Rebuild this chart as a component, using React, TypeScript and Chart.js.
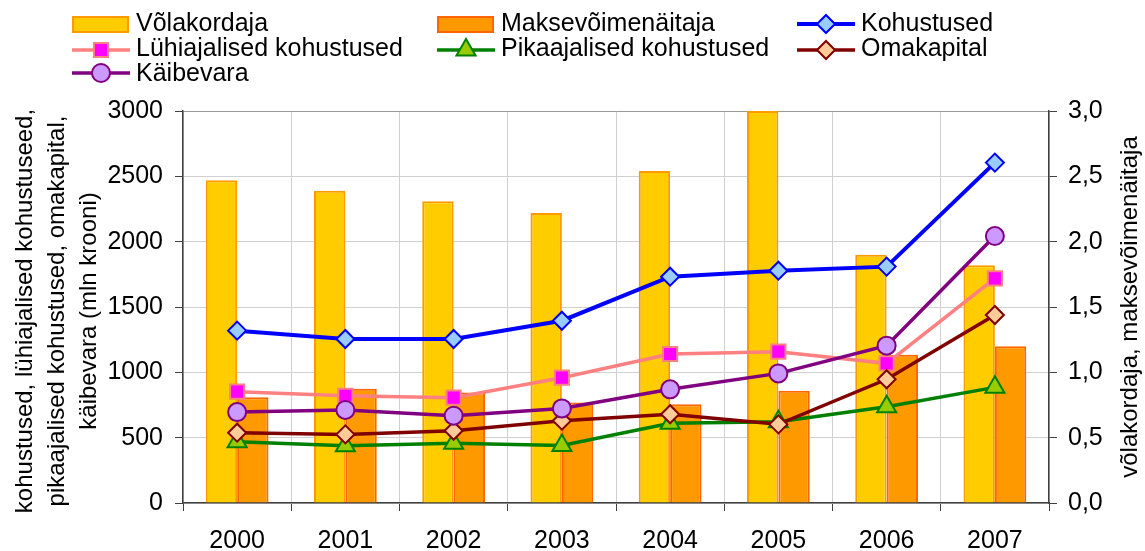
import React, { useEffect, useRef } from 'react';
import { Chart, registerables } from 'chart.js';

Chart.register(...registerables);

const FONT = '"Liberation Sans", Arial, Helvetica, sans-serif';

// ---- data ----
const years = ['2000', '2001', '2002', '2003', '2004', '2005', '2006', '2007'];
const volakordaja = [2.47, 2.39, 2.31, 2.22, 2.54, 3.0, 1.9, 1.82];
const maksevoimenaitaja = [0.81, 0.875, 0.845, 0.77, 0.755, 0.86, 1.135, 1.2];
const kohustused = [1319, 1255, 1255, 1395, 1732, 1778, 1809, 2605];
const luhiajalised = [852, 821, 806, 959, 1140, 1158, 1069, 1719];
const pikaajalised = [469, 439, 457, 441, 610, 622, 737, 885];
const omakapital = [538, 525, 553, 630, 679, 602, 947, 1439];
const kaibevara = [696, 712, 668, 724, 870, 992, 1204, 2043];

const leftAxis = { min: 0, max: 3000, step: 500 };
const rightAxis = { min: 0, max: 3, step: 0.5 };

const leftTitle = [
  'kohustused, lühiajalised kohustuseed,',
  'pikaajalised kohustused, omakapital,',
  'käibevara (mln krooni)',
];
const rightTitle = 'võlakordaja, maksevõimenäitaja';

// ---- helpers ----
function drawMarker(ctx: CanvasRenderingContext2D, style: string, x: number, y: number, r: number) {
  ctx.beginPath();
  if (style === 'rectRot') {
    ctx.moveTo(x - r, y);
    ctx.lineTo(x, y - r);
    ctx.lineTo(x + r, y);
    ctx.lineTo(x, y + r);
    ctx.closePath();
  } else if (style === 'rect') {
    const s = r * Math.SQRT1_2;
    ctx.rect(x - s, y - s, 2 * s, 2 * s);
  } else if (style === 'triangle') {
    let rad = 0;
    ctx.moveTo(x + Math.sin(rad) * r, y - Math.cos(rad) * r);
    rad += (2 * Math.PI) / 3;
    ctx.lineTo(x + Math.sin(rad) * r, y - Math.cos(rad) * r);
    rad += (2 * Math.PI) / 3;
    ctx.lineTo(x + Math.sin(rad) * r, y - Math.cos(rad) * r);
    ctx.closePath();
  } else {
    ctx.arc(x, y, r, 0, Math.PI * 2);
  }
  ctx.fill();
  ctx.stroke();
}

const legendPlugin = {
  id: 'gridLegend',
  afterDraw(chart: any) {
    const ctx: CanvasRenderingContext2D = chart.ctx;
    const cols = [72, 437, 797];
    const markerRows = [24, 50, 73];
    const textRows = [30.5, 56, 80.5];
    chart.data.datasets.forEach((ds: any, i: number) => {
      const x = cols[i % 3];
      const row = Math.floor(i / 3);
      const y = markerRows[row];
      ctx.save();
      if (ds.type === 'bar') {
        ctx.fillStyle = ds.backgroundColor;
        ctx.strokeStyle = ds.borderColor;
        ctx.lineWidth = 2;
        ctx.fillRect(x + 1, y - 7, 55, 15);
        ctx.strokeRect(x + 1, y - 7, 55, 15);
      } else {
        ctx.strokeStyle = ds.borderColor;
        ctx.lineWidth = ds.borderWidth;
        ctx.beginPath();
        ctx.moveTo(x, y);
        ctx.lineTo(x + 58, y);
        ctx.stroke();
        ctx.fillStyle = ds.pointBackgroundColor;
        ctx.strokeStyle = ds.pointBorderColor;
        ctx.lineWidth = ds.pointBorderWidth;
        drawMarker(ctx, ds.pointStyle, x + 29, y, ds.pointRadius);
      }
      ctx.fillStyle = '#000';
      ctx.font = `25px ${FONT}`;
      ctx.textAlign = 'left';
      ctx.textBaseline = 'alphabetic';
      ctx.fillText(ds.label, x + 64, textRows[row]);
      ctx.restore();
    });
  },
};

const titlePlugin = {
  id: 'axisTitles',
  afterDraw(chart: any) {
    const ctx: CanvasRenderingContext2D = chart.ctx;
    const area = chart.chartArea;
    const cy = (area.top + area.bottom) / 2 + 4;
    ctx.save();
    ctx.fillStyle = '#000';
    ctx.font = `24px ${FONT}`;
    ctx.textAlign = 'center';
    ctx.textBaseline = 'alphabetic';
    const baselines = [32, 64, 96];
    leftTitle.forEach((line, i) => {
      ctx.save();
      ctx.translate(baselines[i], cy);
      ctx.rotate(-Math.PI / 2);
      ctx.fillText(line, 0, 0);
      ctx.restore();
    });
    ctx.save();
    ctx.translate(1137, cy - 4);
    ctx.rotate(-Math.PI / 2);
    ctx.fillText(rightTitle, 0, 0);
    ctx.restore();
    ctx.restore();
  },
};

export default function App() {
  const ref = useRef<HTMLCanvasElement>(null);

  useEffect(() => {
    const tickFont = { family: FONT, size: 25 };
    const dark = '#404040';
    const chart = new Chart(ref.current as HTMLCanvasElement, {
      type: 'bar',
      data: {
        labels: years,
        datasets: [
          {
            type: 'bar',
            label: 'Võlakordaja',
            data: volakordaja,
            yAxisID: 'y1',
            backgroundColor: '#FFCC00',
            borderColor: '#FF9900',
            borderWidth: 2,
            order: 20,
          } as any,
          {
            type: 'bar',
            label: 'Maksevõimenäitaja',
            data: maksevoimenaitaja,
            yAxisID: 'y1',
            backgroundColor: '#FF9900',
            borderColor: '#FF6600',
            borderWidth: 2,
            order: 21,
          },
          {
            type: 'line',
            label: 'Kohustused',
            data: kohustused,
            yAxisID: 'y',
            borderColor: '#0000FF',
            borderWidth: 4,
            pointStyle: 'rectRot',
            pointRadius: 9,
            pointBackgroundColor: '#99CCFF',
            pointBorderColor: '#0000FF',
            pointBorderWidth: 2,
            tension: 0,
            order: 5,
          },
          {
            type: 'line',
            label: 'Lühiajalised kohustused',
            data: luhiajalised,
            yAxisID: 'y',
            borderColor: '#FF8080',
            borderWidth: 3.5,
            pointStyle: 'rect',
            pointRadius: 10,
            pointBackgroundColor: '#FF00FF',
            pointBorderColor: '#FF8080',
            pointBorderWidth: 2,
            tension: 0,
            order: 4,
          },
          {
            type: 'line',
            label: 'Pikaajalised kohustused',
            data: pikaajalised,
            yAxisID: 'y',
            borderColor: '#008000',
            borderWidth: 3.5,
            pointStyle: 'triangle',
            pointRadius: 11,
            pointBackgroundColor: '#99CC00',
            pointBorderColor: '#008000',
            pointBorderWidth: 2,
            tension: 0,
            order: 3,
          },
          {
            type: 'line',
            label: 'Omakapital',
            data: omakapital,
            yAxisID: 'y',
            borderColor: '#800000',
            borderWidth: 3.5,
            pointStyle: 'rectRot',
            pointRadius: 9,
            pointBackgroundColor: '#FFCC99',
            pointBorderColor: '#800000',
            pointBorderWidth: 2,
            tension: 0,
            order: 2,
          },
          {
            type: 'line',
            label: 'Käibevara',
            data: kaibevara,
            yAxisID: 'y',
            borderColor: '#800080',
            borderWidth: 3.5,
            pointStyle: 'circle',
            pointRadius: 9,
            pointBackgroundColor: '#CC99FF',
            pointBorderColor: '#800080',
            pointBorderWidth: 2,
            tension: 0,
            order: 1,
          },
        ] as any,
      },
      options: {
        responsive: true,
        maintainAspectRatio: false,
        animation: false,
        datasets: {
          bar: { categoryPercentage: 0.58, barPercentage: 1 },
        } as any,
        layout: { padding: { top: 111, left: 0, right: 0, bottom: 0 } },
        plugins: {
          legend: { display: false },
          tooltip: { enabled: false },
          title: { display: false },
        },
        scales: {
          x: {
            offset: true,
            grid: {
              offset: true,
              color: '#D0D0D0',
              tickColor: dark,
              tickLength: 8,
              lineWidth: 1,
            },
            border: { color: dark, width: 1.5 },
            ticks: { font: tickFont, color: '#000', padding: 15, maxRotation: 0 },
            afterFit: (s: any) => {
              s.height = 48;
            },
          },
          y: {
            position: 'left',
            min: leftAxis.min,
            max: leftAxis.max,
            ticks: {
              stepSize: leftAxis.step,
              font: tickFont,
              color: '#000',
              padding: 12,
              callback: (v: any) => String(v),
            },
            grid: {
              color: (c: any) => (c.tick && c.tick.value === leftAxis.max ? '#9A9A9A' : '#D0D0D0'),
              tickColor: dark,
              tickLength: 8,
            },
            border: { color: dark, width: 1.5 },
            afterFit: (s: any) => {
              s.width = 183;
            },
          },
          y1: {
            position: 'right',
            min: rightAxis.min,
            max: rightAxis.max,
            ticks: {
              stepSize: rightAxis.step,
              font: tickFont,
              color: '#000',
              padding: 11,
              callback: (v: any) => Number(v).toFixed(1).replace('.', ','),
            },
            grid: { drawOnChartArea: false, tickColor: dark, tickLength: 8 },
            border: { color: dark, width: 1.5 },
            afterFit: (s: any) => {
              s.width = 96;
            },
          },
        },
      },
      plugins: [legendPlugin, titlePlugin],
    });
    return () => chart.destroy();
  }, []);

  return (
    <div style={{ position: 'fixed', left: 0, top: 0, width: 1145, height: 551, background: '#fff' }}>
      <canvas ref={ref} />
    </div>
  );
}
